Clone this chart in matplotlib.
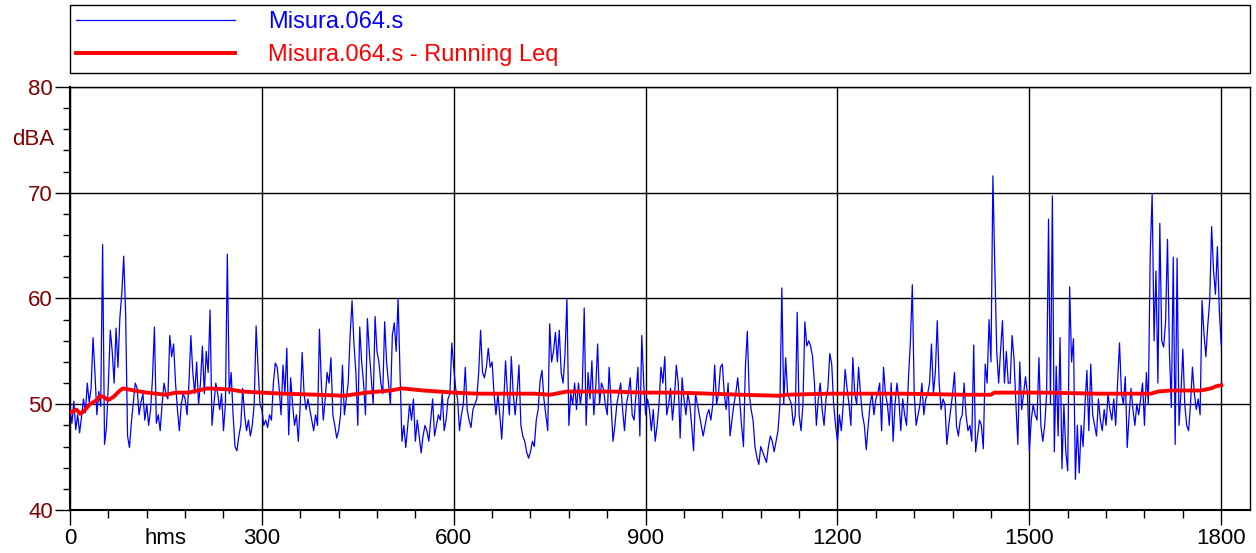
import matplotlib
matplotlib.use("Agg")
import matplotlib.pyplot as plt
import matplotlib.transforms as mtransforms
from matplotlib.ticker import MultipleLocator
import numpy as np

plt.rcParams['font.family'] = ['Liberation Sans', 'DejaVu Sans']

# sound level every 3 s (dBA)
step = 3
level = [
    49.5, 48.2, 50.3, 47.6, 49.0, 47.3, 48.8, 50.5, 49.2, 52.0,
    50.2, 51.5, 56.3, 53.0, 49.0, 51.2, 49.8, 65.1, 46.2, 47.8,
    52.0, 57.0, 55.0, 52.0, 57.2, 53.5, 58.2, 60.5, 64.0, 58.5,
    47.0, 45.9, 48.3, 50.2, 52.0, 51.5, 49.0, 50.2, 51.0, 48.5,
    50.0, 48.0, 49.5, 52.5, 57.3, 48.2, 49.0, 47.5, 50.0, 52.0,
    51.0, 50.5, 56.5, 54.5, 55.7, 52.0, 49.5, 47.5, 50.0, 51.0,
    50.5, 49.0, 52.0, 56.5, 53.0, 51.0, 54.0, 50.0, 52.0, 55.5,
    51.0, 55.0, 53.0, 58.9, 48.0, 50.0, 52.0, 51.0, 49.5, 51.0,
    47.5, 50.0, 64.2, 51.0, 53.0, 49.0, 46.0, 45.6, 47.0, 48.0,
    51.5, 49.0, 47.5, 48.5, 47.0, 48.0, 50.0, 57.4, 53.5, 50.0,
    49.5, 48.0, 48.5, 47.8, 49.0, 48.5, 52.0, 53.9, 53.5, 51.5,
    49.0, 53.7, 51.0, 55.3, 47.1, 52.5, 50.0, 48.0, 49.0, 46.5,
    50.0, 54.9, 51.0, 49.5, 50.5, 49.5, 48.5, 47.5, 49.0, 48.0,
    57.1, 52.0, 48.5, 50.5, 53.0, 52.0, 54.4, 49.0, 48.0, 46.8,
    47.5, 49.0, 53.7, 49.0, 50.5, 52.0, 56.5, 59.8, 55.7, 53.0,
    48.0, 57.3, 54.0, 52.0, 49.0, 58.1, 55.0, 52.5, 50.0, 58.3,
    55.0, 54.0, 52.0, 51.0, 57.8, 54.0, 52.0, 50.0, 56.5, 57.7,
    55.0, 60.0, 53.0, 46.5, 48.0, 45.9, 48.0, 50.0, 48.5, 50.5,
    46.5, 48.5, 47.0, 45.4, 47.0, 48.0, 47.5, 46.5, 48.5, 50.5,
    47.0, 48.0, 49.0, 48.5, 51.0, 47.5, 48.5, 50.5, 51.0, 55.8,
    53.5, 51.5, 50.5, 47.5, 49.0, 50.0, 53.5, 49.5, 48.5, 47.8,
    49.5, 50.0, 50.5, 53.0, 57.0, 53.0, 52.5, 53.5, 55.3, 53.5,
    54.0, 51.0, 49.0, 51.0, 49.0, 46.7, 50.0, 54.1, 51.0, 49.0,
    54.5, 51.0, 49.0, 51.0, 53.7, 48.0, 47.0, 46.5, 45.5, 44.9,
    45.5, 46.5, 46.0, 48.5, 49.5, 52.2, 53.2, 50.5, 49.0, 47.5,
    57.6, 54.0, 55.0, 56.8, 54.0, 57.0, 53.0, 52.0, 54.8, 60.0,
    48.0, 51.0, 50.0, 52.0, 49.5, 52.0, 50.0, 51.5, 59.1, 48.0,
    53.0, 50.5, 54.1, 49.0, 51.5, 55.7, 50.0, 52.0, 51.5, 50.0,
    49.0, 53.5, 50.0, 46.5, 48.0, 50.0, 51.0, 52.0, 49.5, 47.5,
    50.0, 51.0, 52.5, 49.0, 48.5, 51.0, 53.5, 47.0, 56.5, 52.0,
    49.0, 50.5, 49.5, 47.5, 49.5, 46.5, 48.0, 50.0, 53.5, 52.0,
    54.5, 49.0, 50.0, 51.5, 48.5, 50.5, 53.7, 52.0, 46.8, 52.5,
    50.5, 49.0, 51.0, 50.0, 48.0, 45.6, 51.0, 50.0, 49.0, 48.0,
    47.0, 48.0, 49.0, 49.5, 48.5, 50.0, 53.7, 50.0, 51.0, 53.5,
    53.8, 51.0, 49.5, 52.0, 47.0, 48.5, 50.0, 51.0, 52.5, 50.5,
    48.0, 46.0, 53.5, 56.9, 51.0, 49.5, 48.5, 46.0, 45.0, 44.3,
    46.0, 45.5, 45.0, 44.5, 46.0, 47.0, 46.5, 45.5, 46.5, 47.5,
    50.0, 61.0, 50.0, 54.4, 51.0, 50.5, 50.0, 48.0, 49.0, 58.7,
    49.0, 47.5, 50.0, 57.8, 55.5, 56.0, 55.5, 54.5, 52.0, 48.0,
    50.5, 52.0, 49.5, 48.0, 50.5, 51.5, 54.8, 53.8, 50.0, 48.0,
    46.5, 49.0, 47.5, 50.0, 53.3, 51.5, 50.0, 48.0, 54.4, 51.0,
    50.0, 53.5, 51.0, 49.0, 48.0, 45.7, 48.0, 50.0, 51.0, 49.0,
    50.5, 51.0, 52.0, 47.5, 53.5, 51.0, 50.0, 48.0, 52.0, 46.5,
    50.0, 52.0, 50.5, 47.5, 50.5, 49.0, 48.0, 52.5, 55.9, 61.3,
    51.0, 48.0, 49.0, 50.0, 52.0, 49.0, 50.5, 51.0, 52.0, 55.7,
    51.0, 53.0, 57.9, 52.0, 49.5, 50.5, 50.0, 46.2, 48.0, 49.5,
    51.0, 53.0, 48.0, 47.0, 48.5, 49.0, 52.0, 49.0, 47.5, 48.0,
    46.5, 55.6, 45.5, 47.0, 48.5, 48.0, 45.8, 53.8, 52.0, 58.0,
    54.0, 71.6, 63.0, 55.0, 52.0, 55.1, 57.9, 52.0, 55.0, 52.0,
    52.0, 56.5, 54.3, 50.0, 46.2, 54.0, 49.5, 51.0, 52.6, 51.0,
    45.6, 48.5, 50.0, 49.0, 48.5, 54.4, 48.0, 46.5, 48.0, 51.0,
    67.5, 50.0, 69.7, 45.5, 53.6, 47.0, 56.3, 43.9, 50.0, 45.5,
    43.7, 61.1, 54.0, 56.2, 42.9, 48.0, 43.5, 48.0, 46.0, 50.0,
    53.2, 47.5, 53.8, 49.0, 48.0, 47.0, 50.5, 48.5, 47.5, 49.5,
    48.0, 51.0, 49.5, 48.5, 50.5, 48.0, 52.1, 55.8, 51.0, 50.0,
    52.6, 45.9, 49.0, 51.5, 49.5, 48.0, 50.0, 49.0, 50.5, 52.0,
    48.0, 53.0, 50.0, 64.2, 69.9, 56.0, 62.6, 52.0, 67.1, 56.0,
    55.4, 57.8, 65.6, 55.0, 49.7, 63.9, 46.2, 63.8, 48.0, 51.0,
    55.2, 50.0, 48.0, 47.5, 50.0, 53.5, 51.0, 49.5, 50.5, 49.0,
    59.8, 56.7, 54.5, 57.5, 59.8, 66.8, 62.6, 60.4, 64.9, 58.9,
    55.6,
]
t_level = np.arange(len(level)) * step

# running Leq
t_leq = [0, 10, 16, 21, 31, 42, 47, 52, 60, 68, 78, 83, 100, 120, 150, 165,
         185, 200, 215, 250, 270, 300, 334, 386, 428, 464, 501, 519, 553, 600,
         636, 725, 751, 777, 814, 850, 892, 950, 1050, 1108, 1120, 1187, 1210,
         1300, 1400, 1440, 1445, 1484, 1523, 1607, 1690, 1701, 1721, 1768,
         1784, 1792, 1800]
leq = [49.2, 49.5, 49.1, 49.3, 50.0, 50.4, 50.8, 50.7, 50.4, 50.7, 51.3, 51.5,
       51.3, 51.1, 50.9, 51.1, 51.1, 51.3, 51.5, 51.4, 51.2, 51.1, 51.0, 50.9,
       50.8, 51.1, 51.3, 51.5, 51.3, 51.1, 51.0, 51.0, 50.9, 51.2, 51.2, 51.2,
       51.1, 51.1, 50.9, 50.8, 50.9, 51.0, 51.0, 51.0, 50.9, 50.9, 51.1, 51.1,
       51.1, 51.0, 51.0, 51.2, 51.3, 51.3, 51.5, 51.7, 51.8]

x_ticks = [0, 300, 600, 900, 1200, 1500, 1800]
y_ticks = [40, 50, 60, 70, 80]
dark_red = '#800000'

fig = plt.figure(figsize=(12.56, 5.53), dpi=100)
ax = fig.add_axes([70 / 1256, 43 / 553, 1180 / 1256, 423 / 553])

l1, = ax.plot(t_level, level, color='#0000FF', lw=0.9, zorder=3)
l2, = ax.plot(t_leq, leq, color='#FF0000', lw=2.8, zorder=4)

ax.set_xlim(0, 1845)
ax.set_ylim(40, 80)
ax.set_xticks(x_ticks)
ax.set_yticks(y_ticks)
ax.xaxis.set_minor_locator(MultipleLocator(60))
ax.yaxis.set_minor_locator(MultipleLocator(2))
ax.grid(which='major', color='black', lw=1.0, zorder=1)
ax.tick_params(which='major', direction='out', length=10.8, width=1, labelsize=16)
ax.tick_params(which='minor', direction='out', length=5.4, width=1)
ax.tick_params(axis='y', colors='black', labelcolor=dark_red, pad=1.5)
ax.tick_params(axis='x', labelcolor='black', pad=2.5)
for s in ax.spines.values():
    s.set_linewidth(1.0)
ax.spines['left'].set_linewidth(1.5)
ax.spines['bottom'].set_linewidth(1.5)

# unit labels
trans_y = mtransforms.blended_transform_factory(ax.transAxes, ax.transData)
ax.text(-0.0135, 75, 'dBA', transform=trans_y, ha='right', va='center',
        fontsize=16, color=dark_red)
trans_x = mtransforms.blended_transform_factory(ax.transData, ax.transAxes)
ax.text(150, -0.068, 'hms', transform=trans_x, ha='center', va='center',
        fontsize=16, color='black')

leg = fig.legend([l1, l2], ['Misura.064.s', 'Misura.064.s - Running Leq'],
                 loc='upper left', bbox_to_anchor=(70 / 1256, 548 / 553, 1180 / 1256, 0.0),
                 mode='expand', fontsize=17, handlelength=6.7, handletextpad=1.4,
                 labelspacing=0.46, borderpad=0.27, borderaxespad=0,
                 fancybox=False, framealpha=1, edgecolor='black')
leg.get_frame().set_linewidth(1.0)
leg.get_texts()[0].set_color('#0000FF')
leg.get_texts()[1].set_color('#FF0000')

fig.savefig('out.png', dpi=100)
